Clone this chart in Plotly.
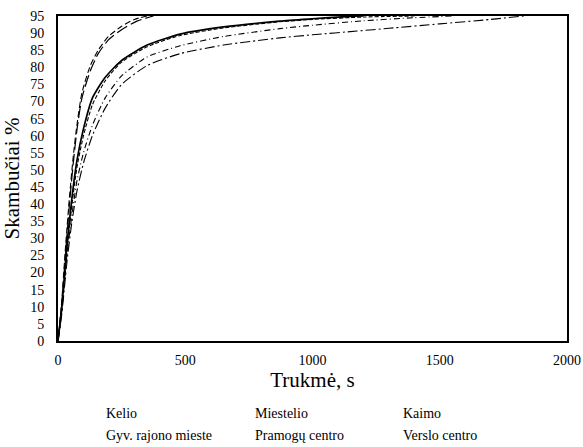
import plotly.graph_objects as go

series_names = ["Kelio", "Miestelio", "Kaimo", "Gyv. rajono mieste", "Pramogų centro", "Verslo centro"]

# duration (s) and share of calls (%)
kelio_t = [0, 15, 35, 55, 75, 100, 135, 185, 250, 350, 480, 650, 870, 1000, 1100, 1200]
kelio_v = [0, 10, 28, 42, 53, 62, 71, 77, 82, 86.5, 89.7, 91.8, 93.5, 94.2, 94.7, 95]

miestelio_t = [0, 15, 30, 45, 60, 75, 94, 127, 158, 198, 250, 310, 375]
miestelio_v = [0, 11, 26, 40, 52, 62, 71, 79, 84, 88, 91, 93.5, 95]

kaimo_t = [0, 15, 30, 45, 60, 75, 94, 127, 158, 198, 250, 300, 350]
kaimo_v = [0, 12, 28, 42, 54, 63.5, 72.5, 80.5, 85, 89, 92, 94, 95]

gyv_t = [0, 15, 35, 55, 75, 100, 135, 185, 250, 350, 480, 650, 870, 1000, 1200, 1400]
gyv_v = [0, 9, 26, 40, 51, 60, 69, 76, 81.5, 86, 89.3, 91.5, 93.3, 94, 94.7, 95]

pramogu_t = [0, 15, 35, 55, 75, 100, 135, 185, 250, 350, 480, 650, 872, 1000, 1200, 1400, 1550]
pramogu_v = [0, 9, 25, 37, 47, 55, 63, 71, 77.5, 83, 86.3, 89, 91.3, 92.3, 93.6, 94.5, 95]

verslo_t = [0, 15, 35, 55, 75, 100, 135, 185, 250, 350, 480, 650, 872, 1000, 1175, 1300, 1500, 1700, 1830]
verslo_v = [0, 8, 23, 35, 44, 52, 60, 68, 75, 80.5, 84, 86.5, 88.6, 89.5, 90.6, 91.4, 92.7, 94, 95]

x_ticks = [0, 500, 1000, 1500, 2000]
y_ticks = list(range(0, 96, 5))

styles = [
    dict(dash="solid", width=1.7),
    dict(dash="12px,4px", width=1.2),
    dict(dash="6px,3px", width=1.1),
    dict(dash="4px,2px", width=1.1),
    dict(dash="6px,3px,1px,3px", width=1.1),
    dict(dash="10px,3px,2px,3px", width=1.1),
]

data = [
    (kelio_t, kelio_v),
    (miestelio_t, miestelio_v),
    (kaimo_t, kaimo_v),
    (gyv_t, gyv_v),
    (pramogu_t, pramogu_v),
    (verslo_t, verslo_v),
]

fig = go.Figure()
for name, (t, v), st in zip(series_names, data, styles):
    fig.add_trace(go.Scatter(
        x=t, y=v, mode="lines", name=name, showlegend=False,
        line=dict(color="black", width=st["width"], dash=st["dash"], shape="spline", smoothing=0.6),
    ))

font = "Liberation Serif"

# legend text (the reference shows names only)
legend_x = [0.091, 0.383, 0.673]
legend_y = [-0.222, -0.292]
for i, name in enumerate(series_names):
    fig.add_annotation(
        text=name, xref="paper", yref="paper",
        x=legend_x[i % 3], y=legend_y[i // 3],
        xanchor="left", yanchor="middle", showarrow=False,
        font=dict(family=font, size=14, color="black"),
    )

fig.update_layout(
    width=583, height=447,
    margin=dict(l=58, r=16, t=16, b=106),
    paper_bgcolor="white", plot_bgcolor="white",
    font=dict(family=font, size=14, color="black"),
)
fig.update_xaxes(
    range=[0, 2000], tickvals=x_ticks, ticks="", ticklabelstandoff=5,
    showline=True, linecolor="black", linewidth=2, mirror=True,
    showgrid=False, zeroline=False, automargin=False,
    title=dict(text="Trukmė, s", font=dict(family=font, size=21), standoff=4),
    tickfont=dict(family=font, size=14),
)
fig.update_yaxes(
    range=[0, 95], tickvals=y_ticks, ticks="", ticklabelstandoff=9,
    showline=True, linecolor="black", linewidth=2, mirror=True,
    showgrid=False, zeroline=False, automargin=False,
    title=dict(text="Skambučiai %", font=dict(family=font, size=21), standoff=8),
    tickfont=dict(family=font, size=14),
)

fig.write_html("out.html", config={"displayModeBar": False},
               post_script="document.body.style.margin='0';")
